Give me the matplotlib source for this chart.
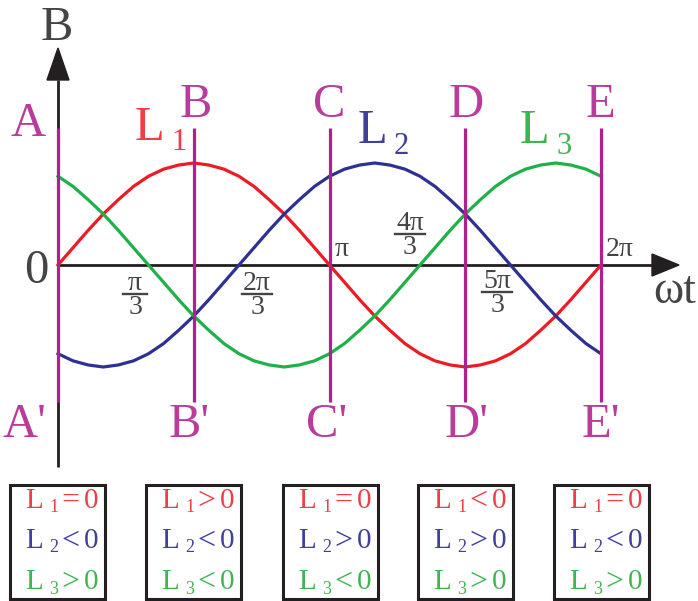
import matplotlib
matplotlib.use("Agg")
import matplotlib.pyplot as plt
from matplotlib.patches import Rectangle, Polygon

# ---------------- data ----------------
angle_deg = [0, 10, 20, 30, 40, 50, 60, 70, 80, 90, 100, 110, 120, 130, 140, 150, 160, 170, 180,
             190, 200, 210, 220, 230, 240, 250, 260, 270, 280, 290, 300, 310, 320, 330, 340, 350, 360]
L1 = [0.00, 0.17, 0.34, 0.50, 0.64, 0.77, 0.87, 0.94, 0.98, 1.00, 0.98, 0.94, 0.87, 0.77, 0.64, 0.50, 0.34, 0.17, 0.00,
      -0.17, -0.34, -0.50, -0.64, -0.77, -0.87, -0.94, -0.98, -1.00, -0.98, -0.94, -0.87, -0.77, -0.64, -0.50, -0.34, -0.17, 0.00]
L2 = [-0.87, -0.94, -0.98, -1.00, -0.98, -0.94, -0.87, -0.77, -0.64, -0.50, -0.34, -0.17, 0.00,
      0.17, 0.34, 0.50, 0.64, 0.77, 0.87, 0.94, 0.98, 1.00, 0.98, 0.94, 0.87, 0.77, 0.64, 0.50, 0.34, 0.17, 0.00,
      -0.17, -0.34, -0.50, -0.64, -0.77, -0.87]
L3 = [0.87, 0.77, 0.64, 0.50, 0.34, 0.17, 0.00, -0.17, -0.34, -0.50, -0.64, -0.77, -0.87, -0.94, -0.98, -1.00,
      -0.98, -0.94, -0.87, -0.77, -0.64, -0.50, -0.34, -0.17, 0.00, 0.17, 0.34, 0.50, 0.64, 0.77, 0.87, 0.94, 0.98, 1.00,
      0.98, 0.94, 0.87]
series_names = ["1", "2", "3"]

marker_deg = [0, 90, 180, 270, 360]
marker_top = ["A", "B", "C", "D", "E"]
marker_bot = ["A'", "B'", "C'", "D'", "E'"]

tick_num = ["π", "2π", "π", "4π", "5π", "2π"]
tick_den = ["3", "3", "", "3", "3", ""]

box_rel1 = ["=", ">", "=", "<", "="]
box_rel2 = ["<", "<", ">", ">", "<"]
box_rel3 = [">", "<", "<", ">", ">"]

# ---------------- styling ----------------
W, H = 698, 601
X0, Y0 = 58, 265          # pixel origin
SX = 543 / 360.0          # px per degree
SY = 102.0                # px per unit

RED, BLUE, GREEN = "#ed1c24", "#2e3192", "#1fb04a"
RED_T, BLUE_T, GREEN_T = "#ee3e47", "#3f3f9c", "#3fb552"
MAG, MAG_T = "#b0208e", "#bb3b9d"
GREY = "#444444"
FONT = "Liberation Serif"

fig = plt.figure(figsize=(W / 100, H / 100), dpi=100)
ax = fig.add_axes([0, 0, 1, 1])
ax.set_xlim(-X0 / SX, (W - X0) / SX)
ax.set_ylim(-(H - Y0) / SY, Y0 / SY)
ax.axis("off")

# overlay in pixel coordinates for annotations
ov = fig.add_axes([0, 0, 1, 1], facecolor="none")
ov.set_xlim(0, W)
ov.set_ylim(H, 0)
ov.axis("off")

def dy(p):  # pixel y -> data y
    return (Y0 - p) / SY

# axes lines
ax.plot([0, (652 - X0) / SX], [0, 0], color="#231f20", lw=2.0, zorder=2, solid_capstyle="butt")
ax.plot([0, 0], [dy(467), dy(80)], color="#231f20", lw=2.0, zorder=2, solid_capstyle="butt")
ov.add_patch(Polygon([[47, 80], [69, 80], [58, 48]], closed=True, color="#231f20", zorder=3))
ov.add_patch(Polygon([[652, 254], [652, 276], [679, 265]], closed=True, color="#231f20", zorder=3))

# curves
ax.plot(angle_deg, L1, color=RED, lw=2.3, zorder=4)
ax.plot(angle_deg, L2, color=BLUE, lw=2.3, zorder=4)
ax.plot(angle_deg, L3, color=GREEN, lw=2.3, zorder=4)

# vertical magenta markers
for d in marker_deg:
    ax.plot([d, d], [dy(402), dy(128)], color=MAG, lw=2.3, zorder=5, solid_capstyle="butt")

top_x = [28, 196, 329, 466, 600]
bot_x = [24, 189, 327, 467, 601]
for tx, bx, t, b in zip(top_x, bot_x, marker_top, marker_bot):
    ov.text(tx, 105 if t != "A" else 124, t, family=FONT, fontsize=35, color=MAG_T,
            ha="center", va="center")
    ov.text(bx, 425, b, family=FONT, fontsize=35, color=MAG_T, ha="center", va="center")

# axis labels
ov.text(57, 28, "B", family=FONT, fontsize=35, color=GREY, ha="center", va="center")
ov.text(36, 271, "0", family=FONT, fontsize=35, color=GREY, ha="center", va="center")
ov.text(675, 292, "ωt", family=FONT, fontsize=33, color=GREY, ha="center", va="center")

# curve labels
curve_lab = [(135, 128, RED_T), (358, 131, BLUE_T), (520, 131, GREEN_T)]
for (lx, ly, c), n in zip(curve_lab, series_names):
    ov.text(lx, ly, "L", family=FONT, fontsize=35, color=c, ha="left", va="center")
    ov.text(lx + 36, ly + 15, n, family=FONT, fontsize=22, color=c, ha="left", va="center")

# tick labels (fractions)
tick_x = [135, 257, 342, 410, 497, 620]
tick_y = [283, 283, 250, 223, 281, 250]
for x, y, n, d in zip(tick_x, tick_y, tick_num, tick_den):
    ov.text(x, y, n, family=FONT, fontsize=20, color=GREY, ha="center", va="center")
    if d:
        w = 12 if len(n) == 1 else 15
        ov.plot([x - w, x + w], [y + 11, y + 11], color=GREY, lw=1.7)
        ov.text(x, y + 24, d, family=FONT, fontsize=20, color=GREY, ha="center", va="center")

# state boxes
box_left = [10, 146, 283, 418, 554]
rows = [(501, RED_T, "1", box_rel1), (541, BLUE_T, "2", box_rel2), (582, GREEN_T, "3", box_rel3)]
for i, bl in enumerate(box_left):
    ov.add_patch(Rectangle((bl, 485), 95, 114, fill=False, ec="#231f20", lw=2.2, zorder=3))
    for (ry, c, n, rel) in rows:
        ov.text(bl + 15, ry, "L", family=FONT, fontsize=21, color=c, ha="left", va="center")
        ov.text(bl + 39, ry + 7, n, family=FONT, fontsize=13, color=c, ha="left", va="center")
        ov.text(bl + 60, ry, rel[i], family=FONT, fontsize=23, color=c, ha="center", va="center")
        ov.text(bl + 81, ry, "0", family=FONT, fontsize=21, color=c, ha="center", va="center")

fig.savefig("out.png", dpi=100)
